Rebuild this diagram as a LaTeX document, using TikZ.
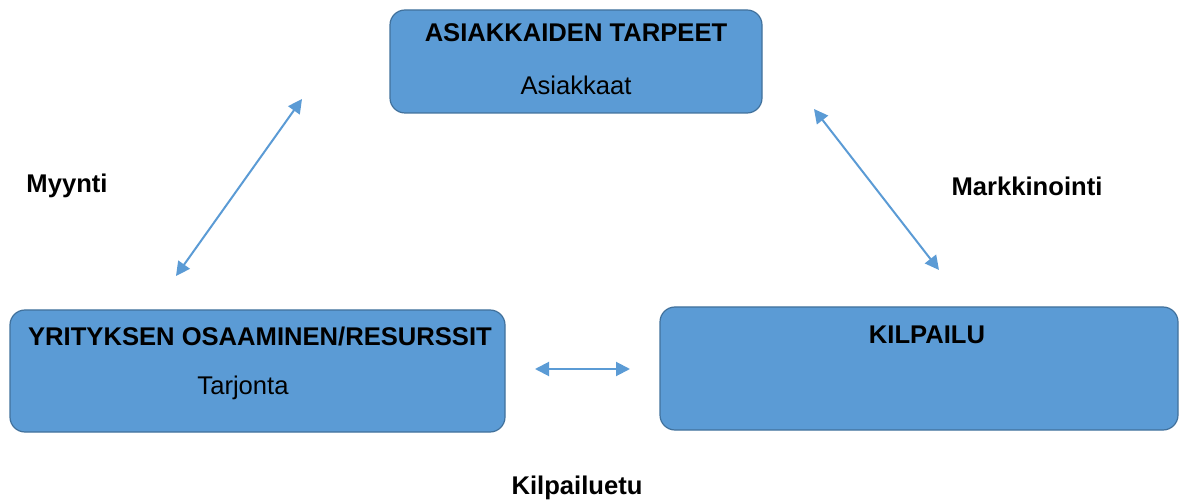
\documentclass[tikz,border=0pt]{standalone}
\usepackage{fontspec}
\setmainfont{Liberation Sans}
\usetikzlibrary{arrows.meta, positioning}
\definecolor{boxblue}{HTML}{5B9BD5}
\definecolor{boxline}{HTML}{41719C}
\tikzstyle{block} = [rectangle, rounded corners=7.5pt,
draw=boxline,
line width=0.6pt,
fill=boxblue]
\tikzstyle{title} = [font=\fontsize{12.8}{15}\selectfont\bfseries, inner sep=0pt]
\tikzstyle{sub} = [font=\fontsize{12.8}{15}\selectfont, inner sep=0pt]
\tikzstyle{arrow} = [draw=boxblue, line width=1pt, {Triangle[length=7pt,width=7pt]}-{Triangle[length=7pt,width=7pt]}]

\begin{document}
\begin{tikzpicture}[x=0.5pt, y=-0.5pt]
        \useasboundingbox (0,0) rectangle (1184,502);
        \node (needs) [block, minimum width=186pt, minimum height=51.5pt] at (576,61.5) {};
        \node (firm) [block, minimum width=247.5pt, minimum height=61pt] at (257.5,371) {};
        \node (comp) [block, minimum width=259pt, minimum height=61.5pt] at (919,368.5) {};
        \node (needsT) [title] at (576,33) {ASIAKKAIDEN TARPEET};
        \node (needsS) [sub] at (576,85) {Asiakkaat};
        \node (firmT) [title] at (260,336) {YRITYKSEN OSAAMINEN/RESURSSIT};
        \node (firmS) [sub] at (243,388) {Tarjonta};
        \node (compT) [title] at (927,335) {KILPAILU};
        \node (sales) [title] at (67,186) {Myynti};
        \node (mark) [title] at (1027,186) {Markkinointi};
        \node (edge) [title] at (577,488) {Kilpailuetu};
        \coordinate (a1) at (302,99);
        \coordinate (a2) at (176,276);
        \coordinate (b1) at (814,109);
        \coordinate (b2) at (939,270);
        \coordinate (c1) at (535,369);
        \coordinate (c2) at (630,369);
        \draw [arrow] (a1) -- (a2);
        \draw [arrow] (b1) -- (b2);
        \draw [arrow] (c1) -- (c2);
\end{tikzpicture}
\end{document}
